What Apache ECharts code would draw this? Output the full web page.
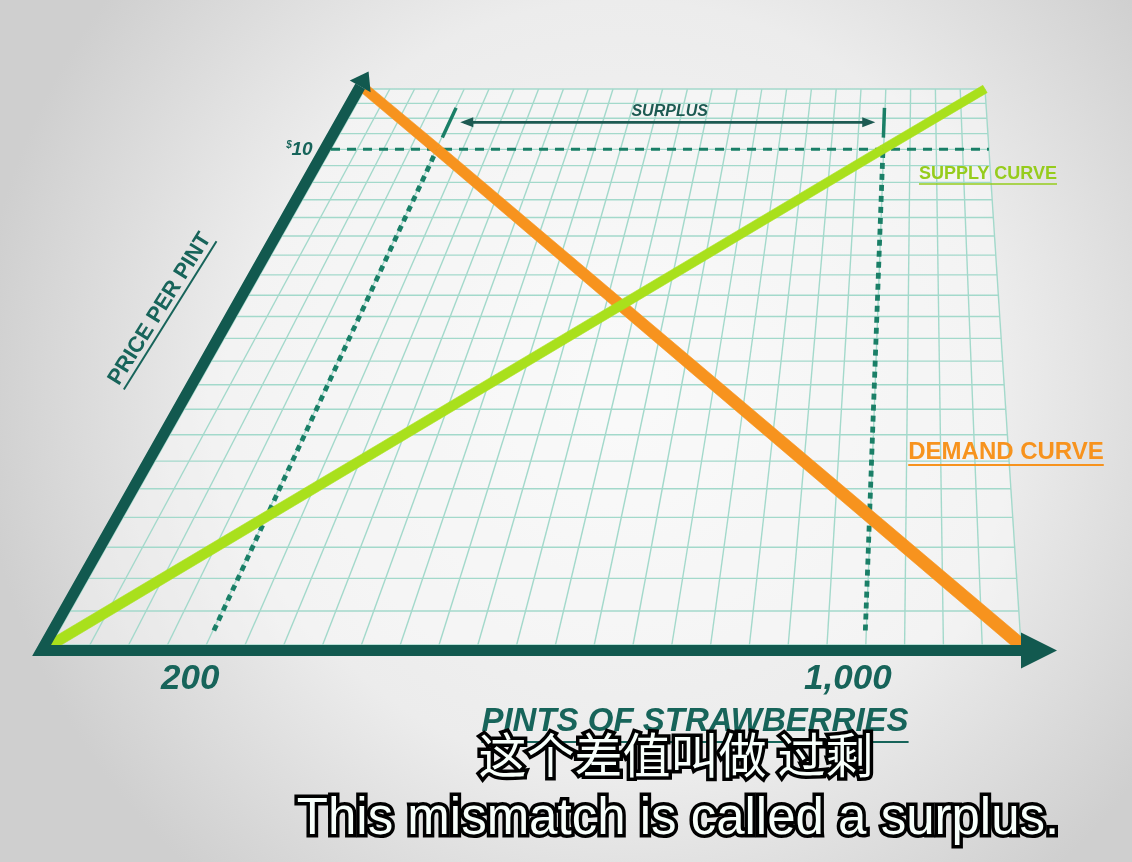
<!DOCTYPE html>
<html>
<head>
<meta charset="utf-8">
<script src="https://cdn.jsdelivr.net/npm/echarts@6/dist/echarts.min.js"></script>
<style>
html,body{margin:0;padding:0;width:1132px;height:862px;overflow:hidden;background:#e6e6e6;}
#c{width:1132px;height:862px;}
</style>
</head>
<body>
<div id="c"></div>
<script>
// ---------------- data ----------------
const quantityRange = [10, 1190];      // pints of strawberries (x axis extent)
const priceRange = [0, 11.9];          // price per pint (y axis extent)
const gridColumns = 25;
const gridRows = 25;
const supplyQty = [10, 1000, 1190];
const supplyPrice = [0, 10, 11.9];
const demandQty = [10, 200, 1190];
const demandPrice = [11.9, 10, 0];
const marketPrice = 10;
const surplusQty = [200, 1000];        // quantity demanded, quantity supplied at $10
const xTickValues = [200, 1000];
const xTickLabels = ['200', '1,000'];
const yTickValues = [10];
const yTickLabels = ['10'];

// ---------------- style / layout ----------------
const PLANE_TOP_LEFT = 365, PLANE_TOP_RIGHT = 985;   // top edge of tilted plane
const AXIS = '#12594f', GRID = '#a3d9cb', DOT = '#1a7f67', ORANGE = '#f7931e', LIME = '#a9e01c';
const TEXT = '#17645a';
const FONT = '"Liberation Sans", Arial, sans-serif';
const mctx = document.createElement('canvas').getContext('2d');
function textW(t, font) { mctx.font = font; return mctx.measureText(t).width; }

function projector(cs) {
  const L = cs.x, R = cs.x + cs.width, T = cs.y, B = cs.y + cs.height;
  const s = (PLANE_TOP_RIGHT - PLANE_TOP_LEFT) / (R - L);
  const k = 1 / s - 1;
  const vpx = (PLANE_TOP_LEFT - L * s) / (1 - s);
  const vpy = (T - B * s) / (1 - s);
  return function (pt) {
    const u = (pt[0] - L) / (R - L);
    const v = (B - pt[1]) / (B - T);
    const w = 1 / (1 + k * v);
    return [vpx + (L + u * (R - L) - vpx) * w, vpy + (B - vpy) * w, v];
  };
}
function mapper(params, api) {
  const pr = projector(params.coordSys);
  return (q, p) => pr(api.coord([q, p]));
}
function seg(a, b, style) {
  return { type: 'line', shape: { x1: a[0], y1: a[1], x2: b[0], y2: b[1] }, style: style };
}
function taperLine(pts, w0, w1, color) {
  const children = [];
  for (let i = 1; i < pts.length; i++) {
    const a = pts[i - 1], b = pts[i];
    const dx = b[0] - a[0], dy = b[1] - a[1], len = Math.hypot(dx, dy);
    const nx = -dy / len, ny = dx / len;
    const wa = (w0 + (w1 - w0) * a[2]) / 2, wb = (w0 + (w1 - w0) * b[2]) / 2;
    children.push({ type: 'polygon', shape: { points: [
      [a[0] + nx * wa, a[1] + ny * wa], [b[0] + nx * wb, b[1] + ny * wb],
      [b[0] - nx * wb, b[1] - ny * wb], [a[0] - nx * wa, a[1] - ny * wa]] },
      style: { fill: color, stroke: color, lineWidth: 0.6 } });
  }
  return children;
}

const [x0, x1] = quantityRange, [y0, y1] = priceRange;

const series = [
  // plane + grid
  { type: 'custom', coordinateSystem: 'cartesian2d', data: [[0]], silent: true, z: 1,
    renderItem(params, api) {
      const at = mapper(params, api);
      const ch = [{ type: 'polygon', shape: { points: [at(x0, y0), at(x1, y0), at(x1, y1), at(x0, y1)].map(p => p.slice(0, 2)) },
        style: { fill: 'rgba(255,255,255,0.4)' } }];
      for (let i = 0; i <= gridColumns; i++) {
        const q = x0 + i * (x1 - x0) / gridColumns;
        ch.push(seg(at(q, y0), at(q, y1), { stroke: GRID, lineWidth: 1.4 }));
      }
      for (let j = 0; j <= gridRows; j++) {
        const p = y0 + j * (y1 - y0) / gridRows;
        ch.push(seg(at(x0, p), at(x1, p), { stroke: GRID, lineWidth: 1.4 }));
      }
      return { type: 'group', children: ch };
    } },
  // market price dashed line
  { type: 'custom', coordinateSystem: 'cartesian2d', data: [[marketPrice]], silent: true, z: 3,
    renderItem(params, api) {
      const at = mapper(params, api), p = api.value(0);
      return seg(at(x0, p), at(x1, p), { stroke: DOT, lineWidth: 3, lineDash: [9, 7] });
    } },
  // dotted quantity lines + top ticks
  { type: 'custom', coordinateSystem: 'cartesian2d', data: surplusQty.map(q => [q]), silent: true, z: 3,
    renderItem(params, api) {
      const at = mapper(params, api), q = api.value(0);
      return { type: 'group', children: [
        seg(at(q, 0.2), at(q, marketPrice), { stroke: DOT, lineWidth: 4.8, lineDash: [6, 5] }),
        seg(at(q, 10.35), at(q, 11.28), { stroke: DOT, lineWidth: 3.5 })
      ] };
    } },
  // surplus arrow
  { type: 'custom', coordinateSystem: 'cartesian2d', data: [[surplusQty[0], surplusQty[1]]], silent: true, z: 3,
    renderItem(params, api) {
      const at = mapper(params, api);
      const pY = 10.82;
      const a = at(api.value(0) + 20, pY), b = at(api.value(1) - 16, pY);
      const mid = at((api.value(0) + api.value(1)) / 2, pY);
      const hl = 13, hw = 5;
      return { type: 'group', children: [
        seg([a[0] + 4, a[1]], [b[0] - 4, b[1]], { stroke: '#1d5a52', lineWidth: 2.6 }),
        { type: 'polygon', shape: { points: [[a[0], a[1]], [a[0] + hl, a[1] - hw], [a[0] + hl, a[1] + hw]] }, style: { fill: '#1d5a52' } },
        { type: 'polygon', shape: { points: [[b[0], b[1]], [b[0] - hl, b[1] - hw], [b[0] - hl, b[1] + hw]] }, style: { fill: '#1d5a52' } },
        { type: 'text', style: { text: 'SURPLUS', x: mid[0] + 3, y: mid[1] - 11, align: 'center', verticalAlign: 'middle',
          textAlign: 'center', textVerticalAlign: 'middle', font: 'italic bold 16px ' + FONT, fill: '#1d5a52' } }
      ] };
    } },
  // demand curve
  { type: 'custom', name: 'Demand', coordinateSystem: 'cartesian2d', data: demandQty.map((q, i) => [q, demandPrice[i]]), silent: true, z: 4,
    renderItem(params, api) {
      if (params.dataIndex !== 0) return null;
      const at = mapper(params, api);
      const pts = demandQty.map((q, i) => at(q, demandPrice[i]));
      return { type: 'group', children: taperLine(pts, 13, 10, ORANGE) };
    } },
  // supply curve
  { type: 'custom', name: 'Supply', coordinateSystem: 'cartesian2d', data: supplyQty.map((q, i) => [q, supplyPrice[i]]), silent: true, z: 5,
    renderItem(params, api) {
      if (params.dataIndex !== 0) return null;
      const at = mapper(params, api);
      const pts = supplyQty.map((q, i) => at(q, supplyPrice[i]));
      return { type: 'group', children: taperLine(pts, 10.5, 8.5, LIME) };
    } },
  // axes with arrowheads
  { type: 'custom', coordinateSystem: 'cartesian2d', data: [[0]], silent: true, z: 6,
    renderItem(params, api) {
      const at = mapper(params, api);
      const p0 = at(x0, y0), p1 = at(x0, y1), pr = at(x1, y0);
      const dx = p1[0] - p0[0], dy = p1[1] - p0[1], len = Math.hypot(dx, dy);
      const d = [dx / len, dy / len], n = [d[1], -d[0]];
      const off = 5.5;
      const top = [p1[0] + n[0] * off, p1[1] + n[1] * off];
      const yLine = p0[1] + off;
      const t = (yLine - (p0[1] + n[1] * off)) / d[1];
      const corner = [p0[0] + n[0] * off + d[0] * t, yLine];
      const xEnd = [pr[0], yLine];
      const tip = [top[0] + d[0] * 17, top[1] + d[1] * 17];
      return { type: 'group', children: [
        { type: 'polyline', shape: { points: [top, corner, xEnd] }, style: { stroke: AXIS, lineWidth: 11, lineJoin: 'miter', miterLimit: 20, fill: null } },
        { type: 'polygon', shape: { points: [[xEnd[0], yLine - 18], [xEnd[0] + 36, yLine], [xEnd[0], yLine + 18]] }, style: { fill: AXIS } },
        { type: 'polygon', shape: { points: [[top[0] + n[0] * 12, top[1] + n[1] * 12], tip, [top[0] - n[0] * 12, top[1] - n[1] * 12]] }, style: { fill: AXIS } }
      ] };
    } },
  // x tick labels
  { type: 'custom', coordinateSystem: 'cartesian2d', data: xTickValues.map((v, i) => [v, i]), silent: true, z: 6,
    renderItem(params, api) {
      const at = mapper(params, api);
      const p = at(api.value(0), y0);
      return { type: 'text', style: { text: xTickLabels[params.dataIndex], x: p[0] - 17, y: p[1] + 34, align: 'center', verticalAlign: 'middle',
        textAlign: 'center', textVerticalAlign: 'middle', font: 'italic bold 35px ' + FONT, fill: TEXT } };
    } },
  // y tick labels
  { type: 'custom', coordinateSystem: 'cartesian2d', data: yTickValues.map((v, i) => [x0, v]), silent: true, z: 6,
    renderItem(params, api) {
      const at = mapper(params, api);
      const p = at(x0, api.value(1));
      return { type: 'group', children: [
        { type: 'text', style: { text: yTickLabels[params.dataIndex], x: p[0] - 29, y: p[1] + 1, align: 'center', verticalAlign: 'middle',
          textAlign: 'center', textVerticalAlign: 'middle', font: 'italic bold 19px ' + FONT, fill: TEXT } },
        { type: 'text', style: { text: '$', x: p[0] - 42, y: p[1] - 4, align: 'center', verticalAlign: 'middle',
          textAlign: 'center', textVerticalAlign: 'middle', font: 'italic bold 10px ' + FONT, fill: TEXT } }
      ] };
    } }
];

function labelWithUnderline(txt, x, y, font, color, rot, ulOff, ulW) {
  const w = textW(txt, font);
  return { type: 'group', x: x, y: y, rotation: rot || 0, z: 50, silent: true, children: [
    { type: 'text', z: 50, style: { text: txt, x: 0, y: 0, align: 'center', verticalAlign: 'middle', textAlign: 'center', textVerticalAlign: 'middle', font: font, fill: color } },
    { type: 'line', z: 50, shape: { x1: -w / 2, y1: ulOff, x2: w / 2, y2: ulOff }, style: { stroke: color, lineWidth: ulW } }
  ] };
}
function subtitle(txt, x, y, font) {
  return [
    { type: 'text', z: 90, silent: true, style: { text: txt, x: x, y: y, align: 'center', verticalAlign: 'middle', textAlign: 'center', textVerticalAlign: 'middle',
      font: font, fill: '#000', stroke: '#000', lineWidth: 7, lineJoin: 'round' } },
    { type: 'text', z: 91, silent: true, style: { text: txt, x: x, y: y, align: 'center', verticalAlign: 'middle', textAlign: 'center', textVerticalAlign: 'middle',
      font: font, fill: '#f7fffb' } }
  ];
}

const chart = echarts.init(document.getElementById('c'), null, { renderer: 'canvas' });
chart.setOption({
  animation: false,
  grid: { left: 51, right: 1132 - 1021, top: 89, bottom: 862 - 645, containLabel: false },
  xAxis: { type: 'value', min: x0, max: x1, show: false },
  yAxis: { type: 'value', min: y0, max: y1, show: false },
  graphic: [
    { type: 'rect', z: -100, silent: true, shape: { x: 0, y: 0, width: 1132, height: 862 },
      style: { fill: new echarts.graphic.RadialGradient(0.55, 0.45, 0.75, [
        { offset: 0, color: '#f6f6f6' }, { offset: 0.6, color: '#ececec' }, { offset: 1, color: '#cfcfcf' }]) } },
    labelWithUnderline('SUPPLY CURVE', 988, 174, 'bold 18px ' + FONT, '#96cc1c', 0, 10, 1.5),
    labelWithUnderline('DEMAND CURVE', 1006, 452, 'bold 24px ' + FONT, ORANGE, 0, 13, 2),
    labelWithUnderline('PRICE PER PINT', 160, 309, 'bold 22px ' + FONT, TEXT, Math.PI * 58 / 180, 12, 2),
    labelWithUnderline('PINTS OF STRAWBERRIES', 695, 722, 'italic bold 33px ' + FONT, TEXT, 0, 20, 2.2),
    ...subtitle('这个差值叫做 过剩', 676, 755, '48px "Noto Sans CJK SC"'),
    ...subtitle('This mismatch is called a surplus.', 678, 820, '51px "Liberation Sans", Arial, sans-serif')
  ],
  series: series
});
</script>
</body>
</html>
